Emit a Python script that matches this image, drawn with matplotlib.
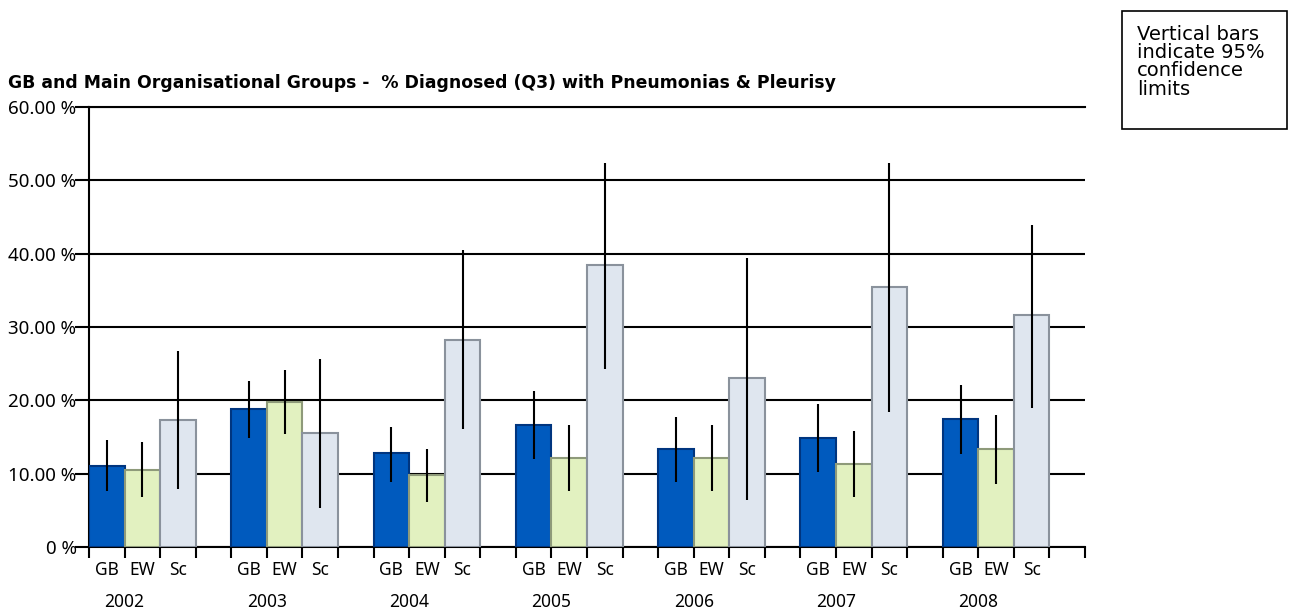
import matplotlib.pyplot as plt
from matplotlib.patches import Rectangle
from matplotlib.ticker import FuncFormatter

years = ["2002", "2003", "2004", "2005", "2006", "2007", "2008"]
groups = ["GB", "EW", "Sc"]

# % diagnosed
gb = [11.1, 18.9, 12.8, 16.6, 13.4, 14.9, 17.5]
ew = [10.5, 19.8, 9.8, 12.2, 12.2, 11.4, 13.4]
sc = [17.4, 15.6, 28.2, 38.4, 23.1, 35.5, 31.6]

# 95% confidence limits
gb_lo = [7.7, 14.9, 8.9, 12.0, 8.9, 10.3, 12.7]
gb_hi = [14.6, 22.7, 16.4, 21.3, 17.8, 19.5, 22.1]
ew_lo = [6.8, 15.5, 6.2, 7.7, 7.7, 6.8, 8.6]
ew_hi = [14.3, 24.2, 13.4, 16.6, 16.6, 15.8, 18.0]
sc_lo = [7.9, 5.3, 16.1, 24.3, 6.5, 18.4, 19.0]
sc_hi = [26.8, 25.6, 40.5, 52.4, 39.4, 52.4, 43.9]

series = [
    (gb, gb_lo, gb_hi, "#005abe", "#00357f"),
    (ew, ew_lo, ew_hi, "#e2f1c0", "#8e9a7a"),
    (sc, sc_lo, sc_hi, "#dfe6ef", "#8a929c"),
]

font = "Noto Sans"
fig = plt.figure(figsize=(12.92, 6.11), dpi=100)
ax = fig.add_axes([89 / 1292, 1 - 547.3 / 611, 996 / 1292, 440.4 / 611])

for i, (vals, lo, hi, fc, ec) in enumerate(series):
    x = [4 * g + i + 0.5 for g in range(len(years))]
    ax.bar(x, vals, width=1.0, color=fc, edgecolor=ec, linewidth=1.5, zorder=3)
    ax.vlines(x, lo, hi, color="black", linewidth=1.5, zorder=4)

ax.set_xlim(0, 4 * len(years))
ax.set_ylim(0, 60)
ax.set_yticks(range(0, 61, 10))
ax.yaxis.set_major_formatter(FuncFormatter(lambda v, p: "0 %" if v == 0 else f"{v:.2f} %"))
ax.yaxis.grid(True, color="black", linewidth=1.5, zorder=0)
ax.set_axisbelow(True)

ax.set_xticks(range(0, 4 * len(years) + 1))
ax.set_xticklabels([])
centers = [4 * g + i + 0.5 for g in range(len(years)) for i in range(3)]
ax.set_xticks(centers, minor=True)
ax.set_xticklabels(groups * len(years), minor=True, fontfamily=font, fontsize=12.5)
ax.tick_params(axis="x", which="major", length=8, width=1.5, direction="out")
ax.tick_params(axis="x", which="minor", length=0, pad=10)
ax.tick_params(axis="y", length=10, width=1.5, pad=-1, labelsize=13.5)
for lab in ax.get_yticklabels():
    lab.set_fontfamily(font)

for g, yr in enumerate(years):
    ax.annotate(yr, xy=(4 * g + 1, 0), xycoords=("data", "axes fraction"),
                xytext=(0, -33), textcoords="offset points", ha="center", va="top",
                fontfamily=font, fontsize=12.5)

ax.spines["right"].set_visible(False)
for s in ["left", "bottom", "top"]:
    ax.spines[s].set_linewidth(1.5)
    ax.spines[s].set_color("black")

fig.text(8 / 1292, 1 - 88.3 / 611,
         "GB and Main Organisational Groups -  % Diagnosed (Q3) with Pneumonias & Pleurisy",
         fontfamily="DejaVu Sans", fontweight="bold", fontsize=12.4, va="baseline", ha="left")

fig.patches.append(Rectangle((1121.7 / 1292, 1 - 129.3 / 611), 165 / 1292, 118.3 / 611,
                             transform=fig.transFigure, fill=False, edgecolor="black", linewidth=1.2))
fig.text(1136.7 / 1292, 1 - 25 / 611, "Vertical bars\nindicate 95%\nconfidence\nlimits",
         fontfamily="DejaVu Sans", fontsize=14, va="top", ha="left", linespacing=0.95)

fig.savefig("out.png", dpi=100)
